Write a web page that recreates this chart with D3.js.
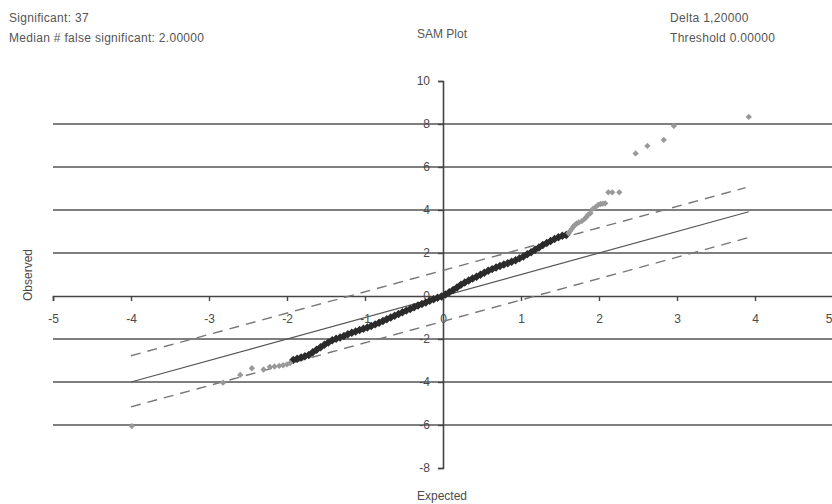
<!DOCTYPE html>
<html>
<head>
<meta charset="utf-8">
<script src="https://cdn.jsdelivr.net/npm/d3@7"></script>
<style>
  html, body { margin: 0; padding: 0; background: #fff; }
  svg { display: block; font-family: "Liberation Sans", Arial, sans-serif; }
</style>
</head>
<body>
<svg id="chart" width="832" height="504"></svg>
<script>
// ---- data ----
const xTicks = [-5, -4, -3, -2, -1, 0, 1, 2, 3, 4, 5];
const yTicks = [-8, -6, -4, -2, 0, 2, 4, 6, 8, 10];
const gridValues = [-6, -4, -2, 2, 4, 6, 8];

// significant genes (grey), upper tail
const sigUpExpected = [3.92, 2.96, 2.83, 2.62, 2.47, 2.26, 2.17, 2.12, 2.08, 2.05, 2.02, 1.99, 1.95,
  1.92, 1.89, 1.86, 1.84, 1.82, 1.78, 1.74, 1.71, 1.69, 1.67, 1.65, 1.63, 1.61];
const sigUpObserved = [8.33, 7.91, 7.26, 6.98, 6.63, 4.82, 4.82, 4.82, 4.31, 4.30, 4.28, 4.24, 4.12,
  4.05, 3.85, 3.78, 3.68, 3.60, 3.48, 3.42, 3.36, 3.30, 3.22, 3.12, 3.02, 2.92];

// significant genes (grey), lower tail
const sigDownExpected = [-3.99, -2.82, -2.60, -2.45, -2.30, -2.22, -2.16, -2.10, -2.05, -2.00, -1.96];
const sigDownObserved = [-6.05, -4.03, -3.67, -3.36, -3.42, -3.30, -3.28, -3.25, -3.22, -3.18, -3.12];

// non-significant genes (black band)
const nonSigExpected = [-1.92, -1.87, -1.82, -1.77, -1.72, -1.67, -1.62, -1.57, -1.52, -1.47, -1.42,
  -1.37, -1.32, -1.27, -1.22, -1.17, -1.12, -1.07, -1.02, -0.97, -0.92, -0.87, -0.82, -0.77, -0.72,
  -0.67, -0.62, -0.57, -0.52, -0.47, -0.42, -0.37, -0.32, -0.27, -0.22, -0.17, -0.12, -0.07, -0.02,
  0.03, 0.08, 0.13, 0.18, 0.23, 0.28, 0.33, 0.38, 0.43, 0.48, 0.53, 0.58, 0.63, 0.68, 0.73, 0.78,
  0.83, 0.88, 0.93, 0.98, 1.03, 1.08, 1.13, 1.18, 1.23, 1.28, 1.33, 1.38, 1.43, 1.48, 1.53, 1.58];
const nonSigObserved = [-2.98, -2.92, -2.86, -2.80, -2.74, -2.62, -2.50, -2.38, -2.27, -2.16, -2.06,
  -1.99, -1.93, -1.86, -1.78, -1.71, -1.65, -1.58, -1.52, -1.46, -1.39, -1.32, -1.24, -1.16, -1.08,
  -1.00, -0.92, -0.84, -0.76, -0.68, -0.60, -0.52, -0.44, -0.37, -0.30, -0.22, -0.15, -0.08, -0.02,
  0.07, 0.17, 0.28, 0.39, 0.52, 0.63, 0.72, 0.81, 0.90, 0.99, 1.08, 1.17, 1.25, 1.33, 1.40, 1.46,
  1.52, 1.59, 1.66, 1.75, 1.84, 1.94, 2.04, 2.15, 2.26, 2.37, 2.47, 2.56, 2.65, 2.73, 2.80, 2.84];

// reference lines: identity and the delta band
const identityX = [-4.0, 3.92];
const identityY = [-4.0, 3.92];
const upperBandX = [-4.0, 3.88];
const upperBandY = [-2.78, 5.04];
const lowerBandX = [-4.0, 3.92];
const lowerBandY = [-5.16, 2.72];

const headerLeft = ["Significant: 37", "Median # false significant: 2.00000"];
const headerRight = ["Delta 1,20000", "Threshold 0.00000"];
const chartTitle = "SAM Plot";
const xLabel = "Expected";
const yLabel = "Observed";

// ---- drawing ----
const svg = d3.select("#chart");
const x = d3.scaleLinear().domain([-5, 5]).range([53, 833]);
const y = d3.scaleLinear().domain([-8, 10]).range([468, 81]);

const textCol = "#4a4a4a";

// header texts
svg.append("g").selectAll("text").data(headerLeft).join("text")
  .attr("x", 9).attr("y", (d, i) => 22 + i * 20)
  .attr("font-size", 12).attr("letter-spacing", 0.3).attr("fill", "#555").text(d => d);
svg.append("g").selectAll("text").data(headerRight).join("text")
  .attr("x", 670).attr("y", (d, i) => 22 + i * 20)
  .attr("font-size", 12).attr("letter-spacing", 0.3).attr("fill", "#555").text(d => d);
svg.append("text").attr("x", 442).attr("y", 38).attr("text-anchor", "middle")
  .attr("font-size", 12).attr("fill", "#555").text(chartTitle);

// gridlines
svg.append("g").selectAll("line").data(gridValues).join("line")
  .attr("x1", x(-5)).attr("x2", x(5))
  .attr("y1", d => y(d)).attr("y2", d => y(d))
  .attr("stroke", "#555").attr("stroke-width", 1.6);

// axes crossing at origin
const fmt = d => String(d);
const xAxis = d3.axisBottom(x).tickValues(xTicks).tickSize(5).tickPadding(13).tickFormat(fmt);
const yAxis = d3.axisLeft(y).tickValues(yTicks).tickSize(5).tickPadding(8).tickFormat(fmt);

const gx = svg.append("g").attr("transform", `translate(0,${y(0)})`).call(xAxis);
const gy = svg.append("g").attr("transform", `translate(${x(0)},0)`).call(yAxis);
[gx, gy].forEach(g => {
  g.select(".domain").attr("stroke", "#444").attr("stroke-width", 1.6);
  g.selectAll(".tick line").attr("stroke", "#444").attr("stroke-width", 1.4);
  g.selectAll(".tick text").attr("fill", textCol).attr("font-size", 12)
    .attr("font-family", "'Liberation Sans', Arial, sans-serif");
});
// keep the last x label inside the window
gx.selectAll(".tick").filter(d => d === 5).select("text")
  .attr("text-anchor", "end").attr("x", -1);

// reference lines
const line = d3.line().x(d => x(d[0])).y(d => y(d[1]));
svg.append("path").datum(d3.zip(identityX, identityY)).attr("d", line)
  .attr("fill", "none").attr("stroke", "#555").attr("stroke-width", 1.2);
svg.append("path").datum(d3.zip(upperBandX, upperBandY)).attr("d", line)
  .attr("fill", "none").attr("stroke", "#777").attr("stroke-width", 1.4).attr("stroke-dasharray", "10,7");
svg.append("path").datum(d3.zip(lowerBandX, lowerBandY)).attr("d", line)
  .attr("fill", "none").attr("stroke", "#777").attr("stroke-width", 1.4).attr("stroke-dasharray", "10,7");

// points
const diamond = d3.symbol().type(d3.symbolSquare);
function drawPoints(xs, ys, size, color) {
  svg.append("g").selectAll("path").data(d3.zip(xs, ys)).join("path")
    .attr("d", diamond.size(size)())
    .attr("transform", d => `translate(${x(d[0])},${y(d[1])}) rotate(45)`)
    .attr("fill", color);
}
drawPoints(nonSigExpected, nonSigObserved, 36, "#2b2b2b");
drawPoints(sigUpExpected, sigUpObserved, 20, "#999");
drawPoints(sigDownExpected, sigDownObserved, 20, "#999");

// axis titles
svg.append("text").attr("x", 442).attr("y", 500).attr("text-anchor", "middle")
  .attr("font-size", 12).attr("fill", textCol).text(xLabel);
svg.append("text").attr("transform", "translate(32,275) rotate(-90)").attr("text-anchor", "middle")
  .attr("font-size", 12).attr("fill", textCol).text(yLabel);
</script>
</body>
</html>
